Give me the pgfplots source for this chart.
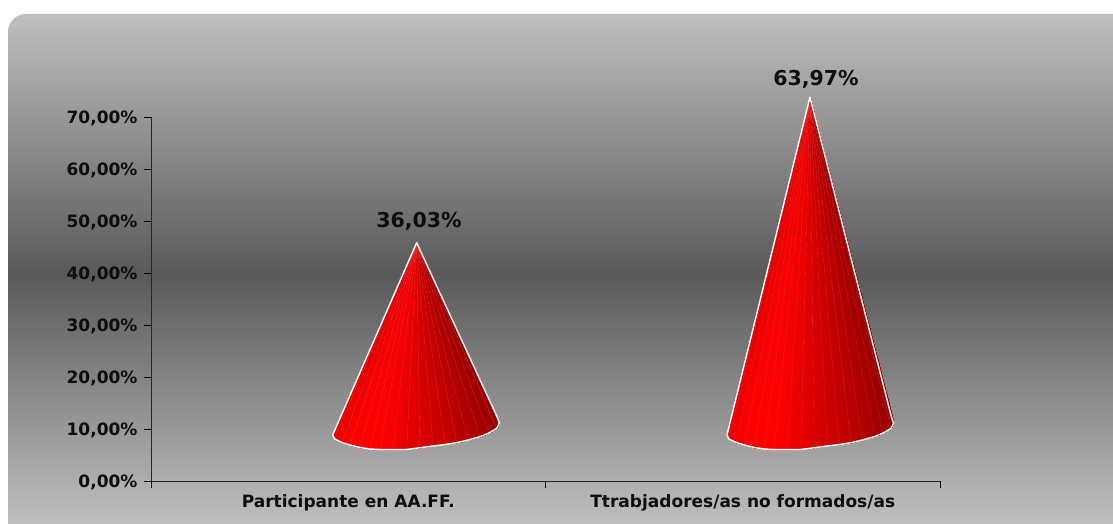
\documentclass[border=0pt]{standalone}
\usepackage{fontspec}
\setmainfont{DejaVu Sans}
\usepackage{pgfplots}
\pgfplotsset{compat=1.18}
\definecolor{bgout}{gray}{0.75}
\definecolor{bgmid}{gray}{0.35}
\definecolor{seam}{RGB}{215,60,60}
\pgfdeclareverticalshading{panelbg}{100bp}{color(0bp)=(bgout); color(26bp)=(bgout); color(50bp)=(bgmid); color(75bp)=(bgout); color(100bp)=(bgout)}
\newcommand{\lab}{\fontsize{17}{20}\selectfont\bfseries}
\newcommand{\vallab}{\fontsize{20.5}{24}\selectfont\bfseries}
\pgfplotstableread[row sep=\\]{
x y c\\
265.7 45.83 0.71\\
265.7 45.83 0.74\\
265.7 45.83 0.79\\
265.7 45.83 0.85\\
265.7 45.83 0.88\\
265.7 45.83 0.88\\
265.7 45.83 0.87\\
265.7 45.83 0.84\\
265.7 45.83 0.76\\
265.7 45.83 0.68\\
265.7 45.83 0.61\\
265.7 45.83 0.55\\
265.7 45.83 0.49\\
265.7 45.83 0.42\\
265.7 45.83 0.34\\
265.7 45.83 0.26\\
265.7 45.83 0.20\\
265.7 45.83 0.15\\
181.7 8.85 0.82\\
183.7 8.08 0.86\\
191 7.40 0.93\\
199 6.92 1.00\\
209 6.44 1.00\\
219 6.15 1.00\\
229 6.06 0.98\\
242 6.06 0.92\\
255.7 6.06 0.82\\
269 6.40 0.74\\
282 6.73 0.66\\
294 7.02 0.60\\
305.7 7.37 0.52\\
317 7.88 0.45\\
329 8.52 0.35\\
338 9.23 0.28\\
345.7 10.13 0.20\\
348.3 11.10 0.15\\
346 12.37 0.12\\
}\coneA
\pgfplotstableread[row sep=\\]{
x y c\\
659 73.85 0.71\\
659 73.85 0.74\\
659 73.85 0.79\\
659 73.85 0.85\\
659 73.85 0.88\\
659 73.85 0.88\\
659 73.85 0.87\\
659 73.85 0.84\\
659 73.85 0.76\\
659 73.85 0.68\\
659 73.85 0.61\\
659 73.85 0.55\\
659 73.85 0.49\\
659 73.85 0.42\\
659 73.85 0.34\\
659 73.85 0.26\\
659 73.85 0.20\\
659 73.85 0.15\\
576 8.85 0.82\\
578 8.08 0.86\\
585.3 7.40 0.93\\
593.3 6.92 1.00\\
603.3 6.44 1.00\\
613.3 6.15 1.00\\
623.3 6.06 0.98\\
636.3 6.06 0.92\\
650 6.06 0.82\\
663.3 6.40 0.74\\
676.3 6.73 0.66\\
688.3 7.02 0.60\\
700 7.37 0.52\\
711.3 7.88 0.45\\
723.3 8.52 0.35\\
732.3 9.23 0.28\\
740 10.13 0.20\\
742.6 11.10 0.15\\
740.3 12.37 0.12\\
}\coneB
\begin{document}
\begin{tikzpicture}
\path (0pt,0pt) rectangle (1113pt,524pt);
\begin{scope}
\clip (0pt,0pt) rectangle (1113pt,524pt);
\shade[shading=panelbg]
  (1113pt,-10pt) -- (8pt,-10pt) [rounded corners=18pt] -- (8pt,510pt) [sharp corners] -- (1113pt,510pt) -- cycle;
\end{scope}
\begin{axis}[
  at={(151pt,43pt)}, anchor=south west, scale only axis,
  width=789pt, height=364pt,
  xmin=0, xmax=789, ymin=0, ymax=70,
  axis x line*=bottom, axis y line*=left,
  axis line style={black!85,line width=0.9pt,-},
  clip=false,
  xtick={0,394.5,789}, xticklabels={},
  extra x ticks={197.25,591.75},
  extra x tick labels={Participante en AA.FF.,Ttrabjadores/as no formados/as},
  extra x tick style={major tick length=0pt,tick label style={yshift=-10pt}},
  ytick={0,10,20,30,40,50,60,70},
  yticklabels={{0,00\%},{10,00\%},{20,00\%},{30,00\%},{40,00\%},{50,00\%},{60,00\%},{70,00\%}},
  tick style={black,line width=0.9pt},
  major tick length=7pt,
  tick align=outside,
  tick label style={font=\lab,text=black!95},
  yticklabel style={xshift=-3pt,yshift=-1.5pt},
  colormap={coneRed}{rgb255=(130,0,0) rgb255=(185,0,0) rgb255=(255,0,0)},
  point meta min=0, point meta max=1,
  table/row sep=\\,
  cone strips/.style={patch,patch type=triangle,shader=faceted interp,line width=0.1pt,
    faceted color=seam,point meta=explicit,
    patch table={0 18 19\\1 19 20\\2 20 21\\3 21 22\\4 22 23\\5 23 24\\6 24 25\\7 25 26\\8 26 27\\9 27 28\\10 28 29\\11 29 30\\12 30 31\\13 31 32\\14 32 33\\15 33 34\\16 34 35\\17 35 36\\}},
]
% cone 1
\addplot[cone strips] table[meta=c] {\coneA};
\addplot[white,line width=1.4pt,line join=round] coordinates {
(346,12.37)(348.3,11.10)(345.7,10.13)(338,9.23)(329,8.52)(317,7.88)(305.7,7.37)(294,7.02)(282,6.73)(269,6.40)(255.7,6.06)(242,6.06)(229,6.06)(219,6.15)(209,6.44)(199,6.92)(191,7.40)(183.7,8.08)(181.7,8.85)(265.7,45.83)(346,12.37)};
% cone 2
\addplot[cone strips] table[meta=c] {\coneB};
\addplot[white,line width=1.4pt,line join=round] coordinates {
(740.3,12.37)(742.6,11.10)(740,10.13)(732.3,9.23)(723.3,8.52)(711.3,7.88)(700,7.37)(688.3,7.02)(676.3,6.73)(663.3,6.40)(650,6.06)(636.3,6.06)(623.3,6.06)(613.3,6.15)(603.3,6.44)(593.3,6.92)(585.3,7.40)(578,8.08)(576,8.85)(659,73.85)(740.3,12.37)};
\node[font=\vallab,text=black!95] at (axis cs:268,49.9) {36,03\%};
\node[font=\vallab,text=black!95] at (axis cs:665,77.3) {63,97\%};
\end{axis}
\end{tikzpicture}
\end{document}
